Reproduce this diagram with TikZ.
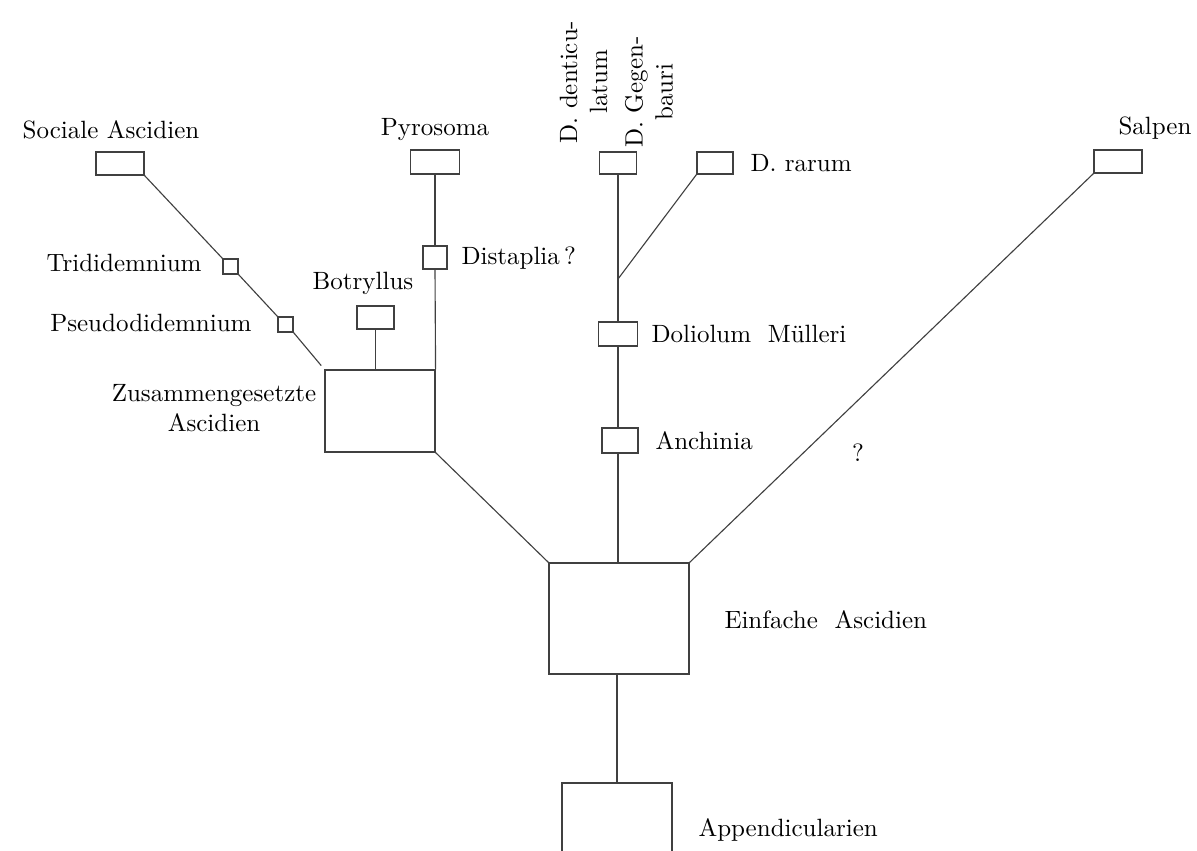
\documentclass[tikz,border=0pt]{standalone}
\usepackage{tikz}

\begin{document}
\begin{tikzpicture}[x=0.4pt,y=-0.4pt,every node/.style={inner sep=0pt},
  stem/.style={rectangle,draw=black!75,line width=0.45pt,fill=white},
  twig/.style={draw=black!75,line width=0.45pt}]
\useasboundingbox (0,0) rectangle (1197,851);
% Boxes
\node[stem,minimum width=19.2pt,minimum height=9.2pt] (soc) at (120,163.5) {};
\node[stem,minimum width=6pt,minimum height=6pt] (trid) at (230.5,266.5) {};
\node[stem,minimum width=6pt,minimum height=6pt] (pseudo) at (285.5,324.5) {};
\node[stem,minimum width=44pt,minimum height=32.8pt] (zus) at (380,411) {};
\node[stem,minimum width=14.8pt,minimum height=9.2pt] (botr) at (375.5,317.5) {};
\node[stem,minimum width=19.6pt,minimum height=9.6pt] (pyro) at (435,162) {};
\node[stem,minimum width=9.6pt,minimum height=9.2pt] (dist) at (435,257.5) {};
\node[stem,minimum width=14.8pt,minimum height=8.8pt] (dent) at (618,163) {};
\node[stem,minimum width=14.4pt,minimum height=8.8pt] (rarum) at (715,163) {};
\node[stem,minimum width=15.6pt,minimum height=9.6pt] (doli) at (618,334) {};
\node[stem,minimum width=14.4pt,minimum height=10pt] (anch) at (620,440.5) {};
\node[stem,minimum width=19.2pt,minimum height=9.2pt] (salp) at (1118,161.5) {};
\node[stem,minimum width=56pt,minimum height=44.4pt] (einf) at (619,618.5) {};
\node[stem,minimum width=44pt,minimum height=38.8pt] (app) at (617,831.5) {};
\coordinate (fork) at (618,279);
% Labels
\node (soclab) at (111,130) {Sociale Ascidien};
\node[anchor=east] (tridlab) at (202,263) {Trididemnium};
\node[anchor=east] (pseudolab) at (252,323) {Pseudodidemnium};
\node (zuslab) [align=center] at (214,408) {Zusammengesetzte\\Ascidien};
\node (botrlab) at (363,283) {Botryllus};
\node (pyrolab) at (435,130) {Pyrosoma};
\node[anchor=west] (distlab) at (461,258) {Distaplia\,?};
\node[rotate=90,align=center] (dentlab) at (583.5,82) {D. denticu-\\latum};
\node[rotate=90,align=center] (geglab) at (649,92) {D. Gegen-\\bauri};
\node[anchor=west] (rarumlab) at (750,163) {D. rarum};
\node[anchor=west] (dolilab) at (651,334) {Doliolum\ \ Mülleri};
\node[anchor=west] (anchlab) at (655,441) {Anchinia};
\node (salplab) at (1155,128) {Salpen};
\node (query) at (858,453) {?};
\node[anchor=west] (einflab) at (724,620) {Einfache\ \ Ascidien};
\node[anchor=west] (applab) at (698,830) {Appendicularien};
% Branches
\draw[twig] (soc.south east) -- (trid.north west);
\draw[twig] (trid.south east) -- (pseudo.north west);
\draw[twig,shorten >=2pt] (pseudo.south east) -- (zus.north west);
\draw[twig] (botr.south) -- (botr.south |- zus.north);
\draw[twig] (pyro.south) -- (pyro.south |- dist.north);
\draw[twig] (dist.south) -- (zus.north east);
\draw[twig] (dent.south) -- (dent.south |- doli.north);
\draw[twig] (rarum.south west) -- (fork);
\draw[twig] (doli.south) -- (doli.south |- anch.north);
\draw[twig] (anch.south -| doli.south) -- (doli.south |- einf.north);
\draw[twig] (zus.south east) -- (einf.north west);
\draw[twig] (salp.south west) -- (einf.north east);
\draw[twig] (app.north |- einf.south) -- (app.north);
\end{tikzpicture}
\end{document}
